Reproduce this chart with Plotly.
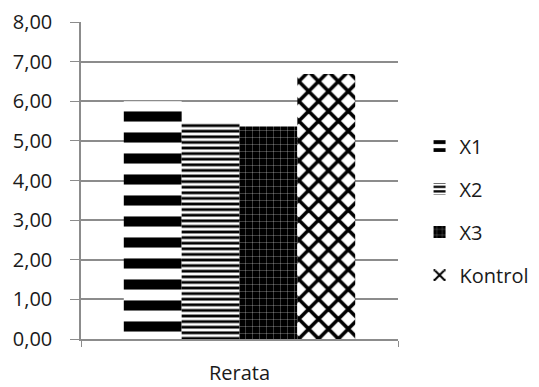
import plotly.graph_objects as go

categories = ["Rerata"]
series_names = ["X1", "X2", "X3", "Kontrol"]
series_values = [[6.00], [5.45], [5.36], [6.69]]
y_ticks = [0, 1, 2, 3, 4, 5, 6, 7, 8]

patterns = [
    dict(shape="-", fgcolor="black", bgcolor="white", fgopacity=1, size=21, solidity=0.48),
    dict(shape="-", fgcolor="black", bgcolor="white", fgopacity=1, size=5.6, solidity=0.5),
    dict(shape="+", fgcolor="white", bgcolor="black", fgopacity=1, size=7, solidity=0.07),
    dict(shape="x", fgcolor="black", bgcolor="white", fgopacity=1, size=14, solidity=0.45),
]

font_family = "'Open Sans', 'Noto Sans', sans-serif"

fig = go.Figure()
for name, vals, pat in zip(series_names, series_values, patterns):
    fig.add_trace(go.Bar(
        x=categories, y=vals, name=name, legendgroup=name,
        marker=dict(color="white", pattern=pat, line=dict(width=0)),
    ))

fig.update_layout(
    width=539, height=387,
    margin=dict(l=81, r=141, t=22, b=48, autoexpand=False),
    paper_bgcolor="white", plot_bgcolor="white",
    barmode="group", bargap=0.27, bargroupgap=0,
    separators=",.",
    font=dict(family=font_family, size=19, color="#1a1a1a"),
    showlegend=True,
    legend=dict(x=1.068, y=0.67, xanchor="left", yanchor="top",
                tracegroupgap=14, font=dict(size=20),
                itemwidth=30, bgcolor="rgba(0,0,0,0)"),
    xaxis=dict(showline=True, linecolor="#8c8c8c", linewidth=1.5,
               ticks="outside", tickson="boundaries", ticklen=6,
               tickcolor="#8c8c8c", showgrid=False, automargin=False,
               ticklabelstandoff=15, tickfont=dict(size=20)),
    yaxis=dict(range=[0, 8], tickvals=y_ticks, tickformat=".2f",
               showline=True, linecolor="#8c8c8c", linewidth=1.5,
               ticks="outside", ticklen=9, tickcolor="#8c8c8c",
               showgrid=True, gridcolor="#8c8c8c", gridwidth=1.5,
               zeroline=False, ticklabelstandoff=14, automargin=False,
               tickfont=dict(size=20)),
)

fig.write_html("out.html")
